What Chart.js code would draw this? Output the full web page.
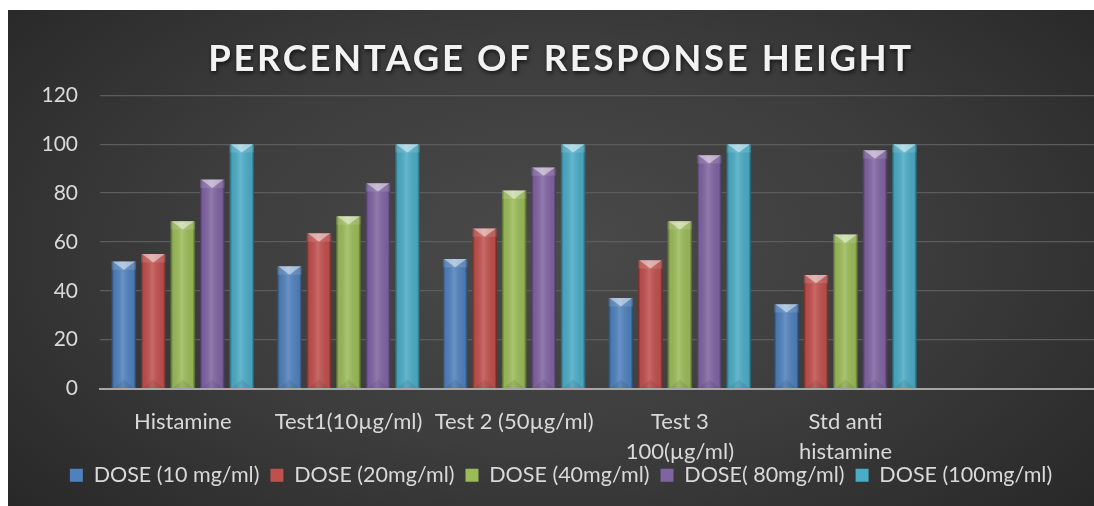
<!DOCTYPE html>
<html><head><meta charset="utf-8">
<script src="https://cdn.jsdelivr.net/npm/chart.js@4.4.0/dist/chart.umd.min.js"></script>
<style>
html,body{margin:0;padding:0;background:#fff;overflow:hidden;}
#bg{position:fixed;left:8px;top:10px;width:1300px;height:700px;
background:radial-gradient(ellipse 710px 400px at 543px 238px, #4a4a4a 0%, #3d3d3d 50%, #282828 100%);}
#c{position:fixed;left:8px;top:10px;width:1086px;height:496px;}
</style></head>
<body><div id="bg"></div><canvas id="c" width="1086" height="496"></canvas>
<script>
const categories = ['Histamine', 'Test1(10µg/ml)', 'Test 2 (50µg/ml)', ['Test 3', '100(µg/ml)'], ['Std anti', 'histamine'], ''];
const seriesNames = ['DOSE (10 mg/ml)', 'DOSE (20mg/ml)', 'DOSE (40mg/ml)', 'DOSE( 80mg/ml)', 'DOSE (100mg/ml)'];
const dose10 = [52, 50, 53, 37, 34.5, null];
const dose20 = [55, 63.5, 65.5, 52.5, 46.5, null];
const dose40 = [68.5, 70.5, 81, 68.5, 63, null];
const dose80 = [85.5, 84, 90.5, 95.5, 97.5, null];
const dose100 = [100, 100, 100, 100, 100, null];
const yTicks = [0, 20, 40, 60, 80, 100, 120];
const titleText = 'PERCENTAGE OF RESPONSE HEIGHT';
const colors = ['#4F81BD', '#C0504D', '#9BBB59', '#8064A2', '#4BACC6'];

const FONT = 'Lato';
const TXT = '#d9d9d9';

const bevel = {
  id: 'bevel',
  beforeDraw(chart) {
    const tb = chart.titleBlock;
    if (tb && !tb._patched) {
      const orig = tb.draw.bind(tb);
      tb.draw = function () {
        const ctx = this.ctx;
        ctx.save();
        ctx.letterSpacing = '2.6px';
        ctx.shadowColor = 'rgba(0,0,0,0.7)';
        ctx.shadowBlur = 4;
        ctx.shadowOffsetX = 1;
        ctx.shadowOffsetY = 2;
        orig();
        ctx.restore();
      };
      tb._patched = true;
    }
  },
  afterDatasetsDraw(chart) {
    const ctx = chart.ctx;
    chart.data.datasets.forEach((ds, di) => {
      const meta = chart.getDatasetMeta(di);
      meta.data.forEach(bar => {
        const p = bar.getProps(['x', 'y', 'base', 'width'], true);
        if (p.y == null || isNaN(p.y)) return;
        const l = p.x - p.width / 2, r = p.x + p.width / 2, h = p.base - p.y;
        if (!(h > 0)) return;
        ctx.save();
        const g = ctx.createLinearGradient(l, 0, r, 0);
        g.addColorStop(0, 'rgba(0,0,0,0.45)');
        g.addColorStop(0.1, 'rgba(0,0,0,0.06)');
        g.addColorStop(0.45, 'rgba(255,255,255,0.14)');
        g.addColorStop(0.9, 'rgba(0,0,0,0.06)');
        g.addColorStop(1, 'rgba(0,0,0,0.5)');
        ctx.fillStyle = g;
        ctx.fillRect(l, p.y, p.width, h);
        const d = Math.min(p.width * 0.34, h / 2);
        ctx.fillStyle = 'rgba(255,255,255,0.12)';
        ctx.fillRect(l, p.y, p.width, d);
        ctx.beginPath();
        ctx.moveTo(l + 1, p.y);
        ctx.lineTo(r - 1, p.y);
        ctx.lineTo(p.x, p.y + d);
        ctx.closePath();
        ctx.fillStyle = 'rgba(255,255,255,0.45)';
        ctx.fill();
        ctx.beginPath();
        ctx.moveTo(l + 2, p.base);
        ctx.lineTo(r - 2, p.base);
        ctx.lineTo(p.x, p.base - d);
        ctx.closePath();
        ctx.fillStyle = 'rgba(0,0,0,0.08)';
        ctx.fill();
        ctx.restore();
      });
    });
  }
};

const seriesData = [dose10, dose20, dose40, dose80, dose100];

new Chart(document.getElementById('c'), {
  type: 'bar',
  data: {
    labels: categories,
    datasets: seriesNames.map((n, i) => ({
      label: n,
      data: seriesData[i],
      backgroundColor: colors[i],
      borderWidth: 0,
      categoryPercentage: 0.89,
      barPercentage: 0.83
    }))
  },
  options: {
    responsive: false,
    animation: false,
    layout: { padding: { left: 20, right: 0, top: 0, bottom: 10 } },
    plugins: {
      title: {
        display: true,
        text: titleText,
        color: '#f2f2f2',
        font: { family: FONT, size: 36.5, weight: 'bold', lineHeight: 1.2 },
        padding: { top: 27, bottom: 14.5 }
      },
      legend: {
        position: 'bottom',
        labels: {
          color: TXT,
          font: { family: FONT, size: 21.5 },
          boxWidth: 13,
          boxHeight: 13,
          padding: 11
        }
      },
      tooltip: { enabled: false }
    },
    scales: {
      x: {
        grid: { display: false, drawTicks: false },
        border: { display: true, color: '#a6a6a6', width: 2 },
        ticks: { color: TXT, font: { family: FONT, size: 22, lineHeight: 1.37 }, padding: 18, maxRotation: 0, autoSkip: false },
        afterFit(s) { s.height = 65; s._computeLabelArea = function () { return undefined; }; }
      },
      y: {
        min: 0, max: 120,
        afterBuildTicks(s) { s.ticks = yTicks.map(v => ({ value: v })); },
        grid: { color: '#5c5c5c', lineWidth: 1.2, drawTicks: false },
        border: { display: false },
        ticks: { color: TXT, font: { family: FONT, size: 21 }, padding: 22 },
        afterFit(s) { s.width = 72; }
      }
    }
  },
  plugins: [bevel]
});
</script>
</body></html>
